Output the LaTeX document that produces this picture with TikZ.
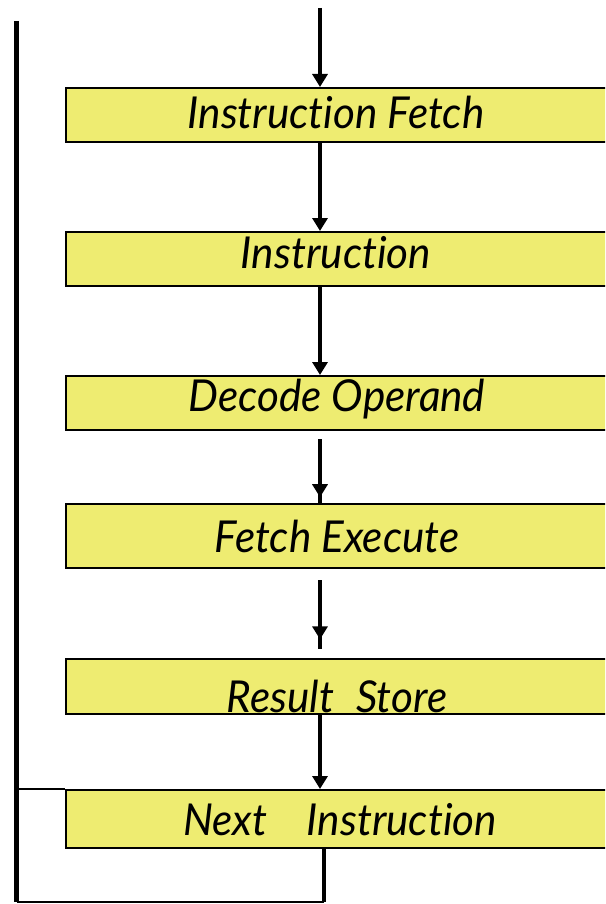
\documentclass[tikz,border=0pt]{standalone}
\usepackage{fontspec}
\setmainfont{Lato}[FakeStretch=0.96,Ligatures={NoCommon}]
\usetikzlibrary{arrows.meta,decorations.markings}
\definecolor{boxyellow}{RGB}{238,236,113}
\tikzset{
  stagebox/.style={draw=black, line width=2pt, fill=boxyellow, rectangle,
    minimum width=542pt, inner sep=0pt, anchor=north west},
  lbl/.style={font=\fontsize{44}{44}\selectfont\itshape, anchor=base, inner sep=0pt},
  flow/.style={line width=4.5pt, -{Triangle[width=15pt,length=13pt]}},
  stub/.style={line width=4.5pt, postaction={decorate},
    decoration={markings, mark=at position #1 with {\arrow{Triangle[width=15pt,length=13pt]}}}},
  loopline/.style={line width=4.5pt},
  thinline/.style={line width=2pt}
}
\begin{document}
\begin{tikzpicture}[x=1pt,y=-1pt]
\clip (0,0) rectangle (605,904);
\fill[white] (0,0) rectangle (605,904);
% boxes
\node[stagebox, minimum height=54pt] (b1) at (65,87) {};
\node[stagebox, minimum height=54pt] (b2) at (65,231) {};
\node[stagebox, minimum height=54pt] (b3) at (65,375) {};
\node[stagebox, minimum height=64pt] (b4) at (65,503) {};
\node[stagebox, minimum height=55pt] (b5) at (65,658) {};
\node[stagebox, minimum height=58pt] (b6) at (65,789) {};
% texts
\node[lbl] (t1) at (336,129) {Instruction Fetch};
\node[lbl] (t2) at (336,268) {Instruction};
\node[lbl] (t3) at (337,411) {Decode Operand};
\node[lbl] (t4) at (337,552) {Fetch Execute};
\node[lbl] (t5) at (337,712) {Result\hspace{0.5em}Store};
\node[lbl] (t6) at (340,835) {Next\hspace{0.9em}Instruction};
% free coordinates
\coordinate (top) at (320,8);
\coordinate (s4a) at (320,439);
\coordinate (s4b) at (320,503);
\coordinate (s5a) at (320,580);
\coordinate (s5b) at (320,649);
\coordinate (ltop) at (16.5,21);
\coordinate (lbot) at (16.5,902);
\coordinate (rbot) at (324,902);
% arrows
\draw[flow] (top) -- (top |- b1.north);
\draw[flow] (b1.south -| top) -- (b2.north -| top);
\draw[flow] (b2.south -| top) -- (b3.north -| top);
\draw[stub=0.91] (s4a) -- (s4b);
\draw[stub=0.86] (s5a) -- (s5b);
\draw[flow] (b5.south -| top) -- (b6.north -| top);
% loop back
\draw[loopline] (ltop) -- (lbot);
\draw[thinline] (lbot) -- (rbot);
\draw[loopline] (rbot) -- (rbot |- b6.south);
\draw[thinline] (ltop |- b6.north) -- (b6.north west);
\end{tikzpicture}
\end{document}
